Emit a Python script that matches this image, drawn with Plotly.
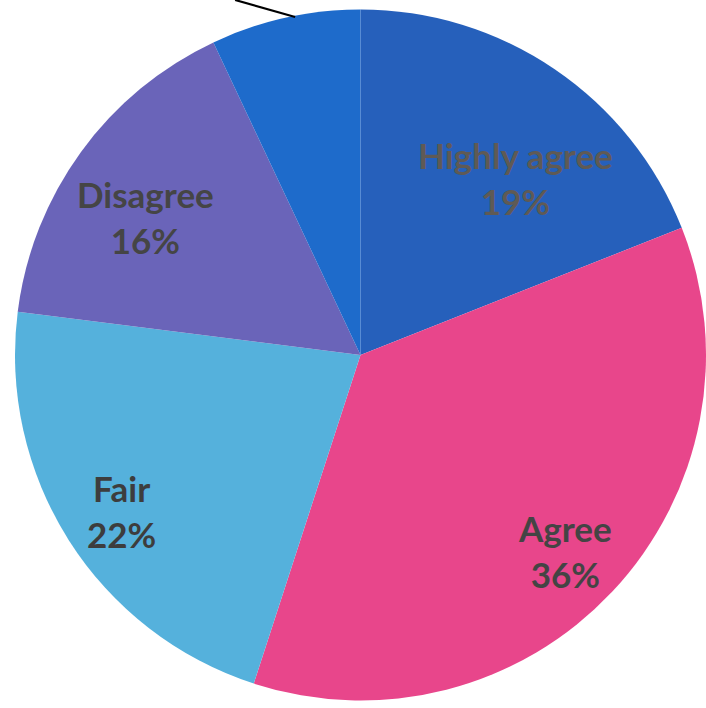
import math
import plotly.graph_objects as go

categories = ["Highly agree", "Agree", "Fair", "Disagree", "Highly disagree"]
values = [19, 36, 22, 16, 7]
show_label = [True, True, True, True, False]

# styling
colors = ["#2660bb", "#e8468b", "#55b1dc", "#6a64b9", "#1e6bcb"]
text_colors = ["#5f5a55", "#444444", "#3d3d3d", "#454545", "#444444"]
label_radius = [0.68, 0.82, 0.825, 0.74, 0.0]     # fraction of pie radius
label_angle_shift = [7, 0.7, -0.8, -3.3, 0]        # degrees from slice middle

W, H = 706, 708
dom_x = [15 / W, 1.0]
dom_y = [1 - 700.5 / H, 1 - 9.5 / H]

fig = go.Figure(go.Pie(
    labels=categories,
    values=values,
    textinfo="none",
    sort=False,
    direction="clockwise",
    rotation=0,
    marker=dict(colors=colors, line=dict(width=0)),
    domain=dict(x=dom_x, y=dom_y),
    showlegend=False,
    hoverinfo="label+percent",
))

# labels placed inside slices, derived from the values
total = sum(values)
r_px = min((dom_x[1] - dom_x[0]) * W, (dom_y[1] - dom_y[0]) * H) / 2
cx = (dom_x[0] + dom_x[1]) / 2
cy = (dom_y[0] + dom_y[1]) / 2
cum = 0
for i, (c, v) in enumerate(zip(categories, values)):
    mid = (cum + v / 2) / total * 360 + label_angle_shift[i]
    cum += v
    if not show_label[i]:
        continue
    a = math.radians(mid)
    x = cx + r_px * label_radius[i] * math.sin(a) / W
    y = cy + r_px * label_radius[i] * math.cos(a) / H
    fig.add_annotation(
        x=x, y=y, xref="paper", yref="paper",
        text=f"{c}<br>{round(v / total * 100)}%",
        showarrow=False, xanchor="center", yanchor="middle",
        font=dict(family="Lato", size=35, color=text_colors[i], weight="bold"),
    )

# leader line of the label that lies outside the picture
fig.add_shape(type="line", xref="paper", yref="paper",
              x0=0.418, y0=0.976, x1=0.333, y1=1.0,
              line=dict(color="black", width=2.2))

fig.update_layout(
    width=W, height=H,
    margin=dict(l=0, r=0, t=0, b=0),
    paper_bgcolor="white",
    plot_bgcolor="white",
)

fig.write_html("out.html", config={"displayModeBar": False},
               post_script="document.body.style.margin='0';")
